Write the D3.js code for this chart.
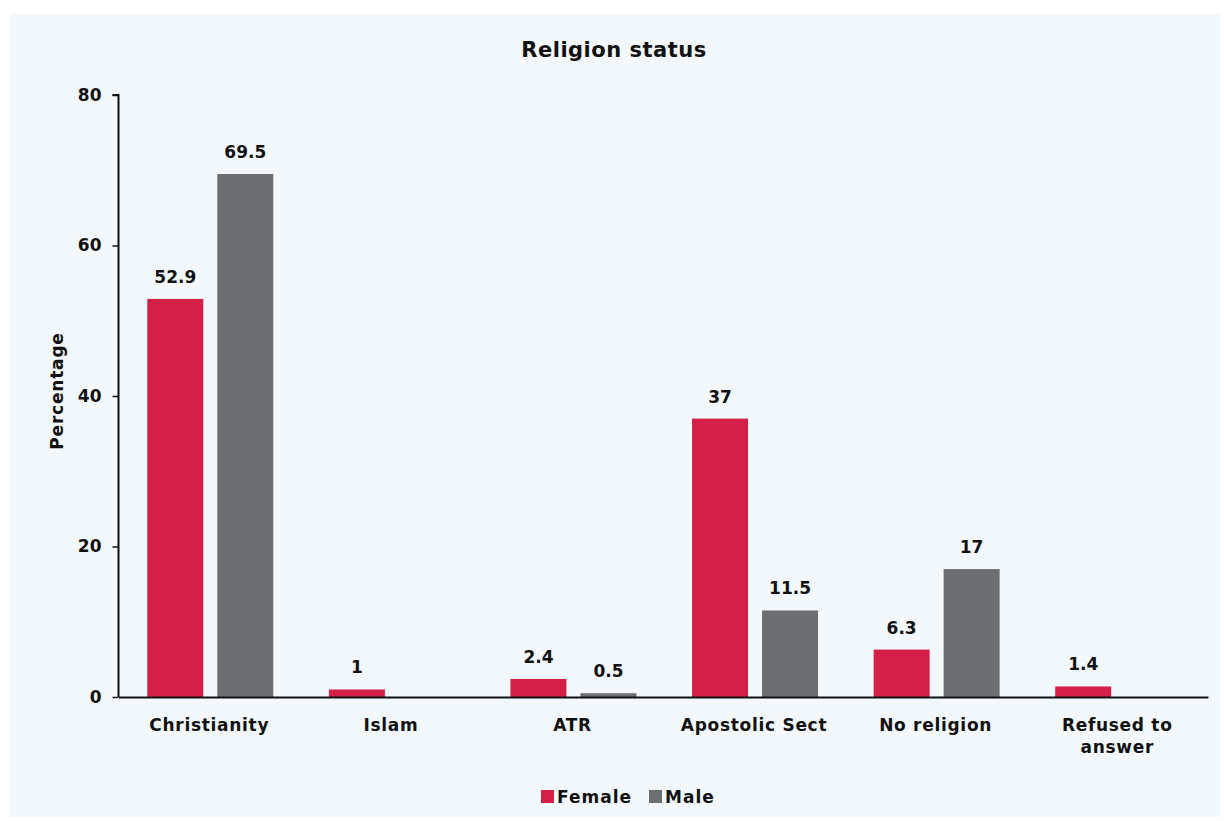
<!DOCTYPE html>
<html><head><meta charset="utf-8">
<script src="https://cdn.jsdelivr.net/npm/d3@7"></script>
<style>
html,body{margin:0;padding:0;background:#fff;}
text{font-family:"DejaVu Sans",sans-serif;fill:#111;}
</style></head>
<body>
<svg id="chart" width="1224" height="821"></svg>
<script>
const categories = ["Christianity", "Islam", "ATR", "Apostolic Sect", "No religion", "Refused to answer"];
const femaleValues = [52.9, 1, 2.4, 37, 6.3, 1.4];
const maleValues = [69.5, null, 0.5, 11.5, 17, null];
const yTicks = [0, 20, 40, 60, 80];
const seriesNames = ["Female", "Male"];
const colors = ["#d41f48", "#6d6e70"];
const FONT = "'DejaVu Sans',sans-serif";

const svg = d3.select("#chart");
svg.append("rect").attr("x", 10).attr("y", 14).attr("width", 1210).attr("height", 803).attr("fill", "#f3f8fc");

const x0 = 118.5, x1 = 1208, yTop = 95, yBot = 697;
const x = d3.scaleBand().domain(categories).range([x0, x1]).paddingInner(0).paddingOuter(0);
const y = d3.scaleLinear().domain([0, 80]).range([yBot, yTop]);
const sub = d3.scaleBand().domain(seriesNames).range([-62, 64]).paddingInner(0.2);

svg.append("text").attr("x", 614).attr("y", 57).attr("text-anchor", "middle")
  .style("font-size", "21px").style("font-weight", 700).style("letter-spacing", "0.5px").text("Religion status");

// bars
const series = [femaleValues, maleValues];
series.forEach((vals, si) => {
  const g = svg.append("g");
  categories.forEach((c, i) => {
    const v = vals[i];
    if (v == null) return;
    const cx = x(c) + x.bandwidth() / 2;
    const bx = cx + sub(seriesNames[si]);
    g.append("rect").attr("x", bx).attr("y", y(v)).attr("width", sub.bandwidth())
      .attr("height", y(0) - y(v)).attr("fill", colors[si]);
    g.append("text").attr("x", bx + sub.bandwidth() / 2).attr("y", y(v) - 16)
      .attr("text-anchor", "middle").style("font-size", "17px").style("font-weight", 700).text(v);
  });
});

// y axis
const yAxis = d3.axisLeft(y).tickValues(yTicks).tickSize(6).tickPadding(11);
const ga = svg.append("g").attr("transform", `translate(${x0},0)`).call(yAxis);
ga.select(".domain").attr("stroke", "#111").attr("stroke-width", 2).attr("d", `M-6,${yTop}H0V${yBot}`);
ga.selectAll(".tick line").attr("stroke", "#111").attr("stroke-width", 1.5);
ga.selectAll(".tick text").style("font-size", "17px").style("font-weight", 700)
  .style("font-family", FONT).attr("fill", "#111");

// x axis
const xAxis = d3.axisBottom(x).tickSize(0).tickPadding(22);
const gx = svg.append("g").attr("transform", `translate(0,${yBot})`).call(xAxis);
gx.select(".domain").attr("stroke", "#111").attr("stroke-width", 2);
gx.selectAll(".tick text").style("font-size", "17px").style("font-weight", 700)
  .style("letter-spacing", "0.7px")
  .style("font-family", FONT).attr("fill", "#111")
  .each(function(d) {
    if (d === "Refused to answer") {
      const t = d3.select(this); t.text(null);
      t.append("tspan").attr("x", 0).attr("dy", "0.71em").text("Refused to");
      t.append("tspan").attr("x", 0).attr("dy", "1.3em").text("answer");
      t.attr("dy", null);
    }
  });

svg.append("text").attr("transform", "translate(63,391) rotate(-90)").attr("text-anchor", "middle")
  .style("font-size", "17px").style("font-weight", 700).style("letter-spacing", "0.8px").text("Percentage");

// legend
const legend = [{n: "Female", x: 541}, {n: "Male", x: 649}];
legend.forEach((l, i) => {
  svg.append("rect").attr("x", l.x).attr("y", 790).attr("width", 13).attr("height", 13).attr("fill", colors[i]);
  svg.append("text").attr("x", l.x + 16).attr("y", 803).style("font-size", "17px").style("font-weight", 700)
    .style("letter-spacing", "1px").text(l.n);
});
</script>
</body></html>
